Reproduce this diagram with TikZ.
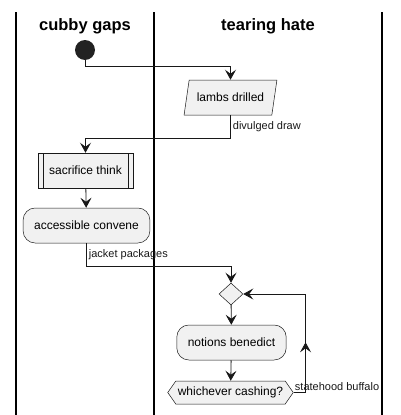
\documentclass[tikz,border=0pt]{standalone}
\usepackage{fontspec}
\setmainfont{Liberation Sans}
\usetikzlibrary{arrows.meta,shapes.geometric,shapes.symbols,decorations.markings}
\definecolor{boxfill}{HTML}{F1F1F1}
\definecolor{boxline}{HTML}{181818}
\definecolor{startdot}{HTML}{222222}

\begin{document}
\begin{tikzpicture}[x=1pt,y=-1pt,
>={Stealth[length=10pt,width=11pt,inset=4pt]},
lane/.style={line width=1.5pt},
lanetitle/.style={font=\bfseries\fontsize{16.5}{19}\selectfont, anchor=base},
lbl/.style={font=\fontsize{11}{13}\selectfont, inner sep=2pt},
actcell/.style={draw=boxline, line width=0.5pt, fill=boxfill, rounded corners=12pt, minimum height=35pt, inner xsep=11pt, font=\fontsize{12}{14}\selectfont},
iocell/.style={trapezium, trapezium left angle=75, trapezium right angle=105, trapezium stretches=true, draw=boxline, line width=0.5pt, fill=boxfill, minimum height=35pt, minimum width=93pt, inner xsep=0pt, font=\fontsize{12}{14}\selectfont},
subcell/.style={rectangle, draw=boxline, line width=0.5pt, fill=boxfill, minimum height=35pt, inner xsep=11pt, font=\fontsize{12}{14}\selectfont,
  path picture={\draw[boxline, line width=0.5pt]
    ([xshift=5pt]path picture bounding box.north west) -- ([xshift=5pt]path picture bounding box.south west)
    ([xshift=-5pt]path picture bounding box.north east) -- ([xshift=-5pt]path picture bounding box.south east);}},
ifcell/.style={signal, signal to=west and east, signal pointer angle=110, draw=boxline, line width=0.5pt, fill=boxfill, minimum height=23pt, inner xsep=2pt, inner ysep=0pt, font=\fontsize{12}{14}\selectfont},
mergecell/.style={diamond, draw=boxline, line width=0.5pt, fill=boxfill, minimum width=24pt, minimum height=22pt, inner sep=0pt},
flow/.style={->, line width=0.8pt, boxline}
]
\useasboundingbox (0,0) rectangle (400,415);

% swimlanes
\draw[lane] (16,12) -- (16,415);
\draw[lane] (154,12) -- (154,415);
\draw[lane] (382,12) -- (382,415);
\node[lanetitle](la) at (85,30.5) {cubby gaps};
\node[lanetitle](lb) at (268,30.5) {tearing hate};

\node[circle, fill=startdot, minimum size=20pt, inner sep=0pt](st) at (85,50) {};
\node[iocell](ld) at (230.5,97.5) {lambs drilled};
\node[subcell](sf) at (85.5,170.5) {sacrifice think};
\node[actcell](ac) at (86.5,225.5) {accessible convene};
\node[mergecell](dm) at (231,294) {};
\node[actcell](nb) at (231.5,342.5) {notions benedict};
\node[ifcell](wc) at (230.5,392.5) {whichever cashing?};

\draw[flow] (st.south) -- ++(0,6) -| (ld.north);
\draw[flow] (ld.south) -- node[lbl, right]{divulged draw} ++(0,23) -| (sf.north);
\draw[flow] (sf) to (ac);
\draw[flow] (ac.south) -- node[lbl, right]{jacket packages} ++(0,23) -| (dm.north);
\draw[flow] (dm) to (nb);
\draw[flow] (nb) to (wc);

\draw[flow, postaction={decorate, decoration={markings, mark=at position 0.36 with {\arrow{>}}}}]
  (wc.east) -- node[lbl, above right, pos=0, inner sep=1pt]{statehood buffalo} ++(12,0) |- (dm.east);

\end{tikzpicture}
\end{document}
